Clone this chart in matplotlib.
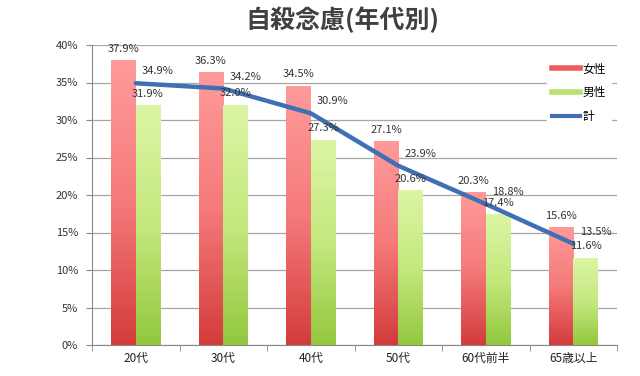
import numpy as np
import matplotlib.pyplot as plt
from matplotlib.lines import Line2D
from matplotlib.colors import LinearSegmentedColormap

plt.rcParams['font.family'] = ['Noto Sans CJK JP', 'DejaVu Sans']

ages = ['20代', '30代', '40代', '50代', '60代前半', '65歳以上']
female = [37.9, 36.3, 34.5, 27.1, 20.3, 15.6]
male = [31.9, 32.0, 27.3, 20.6, 17.4, 11.6]
total = [34.9, 34.2, 30.9, 23.9, 18.8, 13.5]

fig = plt.figure(figsize=(6.4, 3.76), dpi=100)
ax = fig.add_axes([92/640, 1-345/376, 525/640, 300/376])

x = np.arange(len(ages))
w = 0.28
red_cmap = LinearSegmentedColormap.from_list('r', ['#d43c3c', '#f57a7a', '#ff9a9a'])
green_cmap = LinearSegmentedColormap.from_list('g', ['#93c83e', '#c4e87e', '#dcf5a4'])
grad = np.linspace(0, 1, 100).reshape(-1, 1)

bars_f = ax.bar(x - w/2, female, w, color='#ef6b6b', zorder=2)
bars_m = ax.bar(x + w/2, male, w, color='#bce276', zorder=2)
for bars, cm in [(bars_f, red_cmap), (bars_m, green_cmap)]:
    for b in bars:
        x0, h = b.get_x(), b.get_height()
        ax.imshow(grad, extent=[x0, x0 + b.get_width(), 0, h], origin='lower',
                  aspect='auto', cmap=cm, zorder=3)

ax.plot(x, total, color='#3f6fb5', lw=3.2, zorder=4, solid_capstyle='round')

for i in range(len(ages)):
    ax.annotate(f'{female[i]:.1f}%', (x[i] - w/2, female[i]), xytext=(0, 5),
                textcoords='offset points', ha='center', va='bottom', fontsize=8, color='#333333', zorder=5)
    ax.annotate(f'{male[i]:.1f}%', (x[i] + w/2, male[i]), xytext=(0, 5),
                textcoords='offset points', ha='center', va='bottom', fontsize=8, color='#333333', zorder=5)
    ax.annotate(f'{total[i]:.1f}%', (x[i], total[i]), xytext=(16, 5),
                textcoords='offset points', ha='center', va='bottom', fontsize=8, color='#333333', zorder=5)

ax.set_xlim(-0.5, len(ages) - 0.5)
ax.set_ylim(0, 40)
ax.set_yticks(range(0, 41, 5))
ax.set_yticklabels([f'{v}%' for v in range(0, 41, 5)], fontsize=8, color='#333333')
ax.set_xticks(x)
ax.set_xticklabels(ages, fontsize=8.5, color='#222222')
ax.set_xticks(np.arange(-0.5, len(ages)), minor=True)
ax.tick_params(axis='x', which='major', length=0, pad=5)
ax.tick_params(axis='x', which='minor', length=4, color='#888888')
ax.tick_params(axis='y', length=4, color='#888888', pad=6)
ax.grid(axis='y', color='#a6a6a6', lw=0.9, zorder=0)
ax.set_axisbelow(True)
for s in ['top', 'right']:
    ax.spines[s].set_visible(False)
ax.spines['left'].set_color('#888888')
ax.spines['bottom'].set_color('#888888')

handles = [Line2D([], [], color='#ee5d5d', lw=4),
           Line2D([], [], color='#b9e070', lw=4),
           Line2D([], [], color='#3f6fb5', lw=3)]
leg = fig.legend(handles, ['女性', '男性', '計'], loc='upper left',
                 bbox_to_anchor=(541/640, 1-52/376), frameon=True, fontsize=8.5,
                 handlelength=2.4, handletextpad=0.2, labelspacing=0.9, borderpad=0.4)
leg.get_frame().set_facecolor('white')
leg.get_frame().set_edgecolor('white')
leg.get_frame().set_alpha(1)
leg.set_zorder(10)

fig.text(342/640, 1-20/376, '自殺念慮(年代別)', ha='center', va='center',
         fontsize=18, fontweight='bold', color='#404040')

fig.savefig('out.png', dpi=100)
